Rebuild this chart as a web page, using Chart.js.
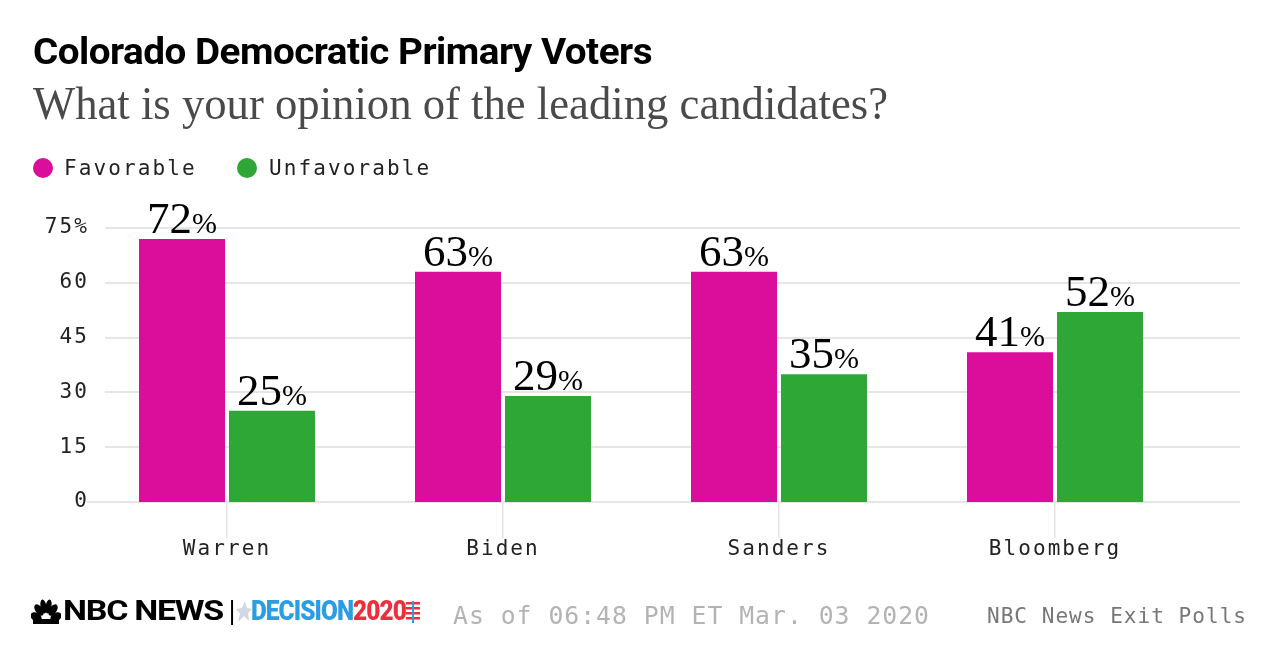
<!DOCTYPE html>
<html>
<head>
<meta charset="utf-8">
<script src="https://cdn.jsdelivr.net/npm/chart.js@4/dist/chart.umd.min.js"></script>
<style>
  html, body { margin:0; padding:0; background:#fff; width:1280px; height:672px; overflow:hidden; }
  #wrap { position:relative; width:1280px; height:672px; }
  canvas#c { position:absolute; left:0; top:0; }
  .t { position:absolute; white-space:nowrap; line-height:1; transform-origin:0 0; }
  #title { left:33px; top:33px; font-family:Roboto, "DejaVu Sans", sans-serif; font-weight:700; font-size:37px; color:#000; letter-spacing:-0.5px; }
  #subtitle { left:33px; top:81px; font-family:"Liberation Serif", "DejaVu Serif", serif; font-size:46px; color:#4a4a4a; }
  .leg { position:absolute; top:158px; height:20px; }
  .dot { position:absolute; width:20px; height:20px; border-radius:50%; top:0; }
  .legtxt { position:absolute; top:0px; font-family:"DejaVu Sans Mono", monospace; font-size:21px; letter-spacing:2.1px; color:#222; line-height:20px; white-space:nowrap; }
  #asof { left:453px; top:603px; font-family:"DejaVu Sans Mono", monospace; font-size:25px; color:#b3b3b3; letter-spacing:1px; }
  #source { left:987px; top:606px; font-family:"DejaVu Sans Mono", monospace; font-size:21px; color:#777; letter-spacing:1px; }
  #logo { position:absolute; left:31px; top:597px; height:30px; }
  #nbc { left:63px; top:598px; font-family:Roboto, "DejaVu Sans", sans-serif; font-weight:700; font-size:27px; color:#000; letter-spacing:-1px; }
  #bar { left:228px; top:599px; font-family:"DejaVu Sans", sans-serif; font-size:24px; color:#000; }
  #dec { left:251px; top:598px; font-family:Roboto, "DejaVu Sans", sans-serif; font-weight:900; font-size:27px; letter-spacing:-1px; }
  #dec .b { color:#2b9de3; }
  #dec .r { color:#ec2f3d; }
</style>
</head>
<body>
<div id="wrap">
  <canvas id="c" width="1280" height="672"></canvas>
  <div id="title" class="t">Colorado Democratic Primary Voters</div>
  <div id="subtitle" class="t">What is your opinion of the leading candidates?</div>
  <div class="leg" style="left:33px">
    <div class="dot" style="left:0;background:#DB0D9B"></div>
    <div class="legtxt" style="left:31px">Favorable</div>
  </div>
  <div class="leg" style="left:237px">
    <div class="dot" style="left:0;background:#2EA737"></div>
    <div class="legtxt" style="left:32px">Unfavorable</div>
  </div>
  <svg id="logo" width="30" height="30" viewBox="0 0 30 30">
    <g fill="#000">
      <ellipse cx="5" cy="20" rx="4.2" ry="6" transform="rotate(-60 5 20)"/>
      <ellipse cx="8" cy="13" rx="3.6" ry="6.5" transform="rotate(-35 8 13)"/>
      <ellipse cx="12.5" cy="9.5" rx="3" ry="7" transform="rotate(-10 12.5 9.5)"/>
      <ellipse cx="17.5" cy="9.5" rx="3" ry="7" transform="rotate(10 17.5 9.5)"/>
      <ellipse cx="22" cy="13" rx="3.6" ry="6.5" transform="rotate(35 22 13)"/>
      <ellipse cx="25" cy="20" rx="4.2" ry="6" transform="rotate(60 25 20)"/>
      <rect x="2" y="22" width="26" height="5"/>
    </g>
  </svg>
  <div id="nbc" class="t">NBC NEWS</div>
  <div id="bar" class="t">|</div>
  <svg style="position:absolute;left:236px;top:601px" width="16" height="22" viewBox="0 0 16 22">
    <polygon points="9,0 11,7 16,8 12,12 13,20 8,15 2,21 4,13 0,8 6,7" fill="#cfd8e3"/>
  </svg>
  <div id="dec" class="t"><span class="b">DECISION</span><span class="r">2020</span></div>
  <svg style="position:absolute;left:406px;top:601px" width="14" height="22" viewBox="0 0 14 22">
    <rect x="0" y="1" width="14" height="2.5" fill="#ec2f3d"/>
    <rect x="0" y="6" width="14" height="2.5" fill="#ec2f3d"/>
    <rect x="0" y="11" width="14" height="2.5" fill="#ec2f3d"/>
    <rect x="0" y="16" width="14" height="2.5" fill="#ec2f3d"/>
    <rect x="6" y="0" width="2" height="22" fill="#2b9de3"/>
  </svg>
  <div id="asof" class="t">As of 06:48 PM ET Mar. 03 2020</div>
  <div id="source" class="t">NBC News Exit Polls</div>
</div>
<script>
const categories = ['Warren', 'Biden', 'Sanders', 'Bloomberg'];
const favorable = [72, 63, 63, 41];
const unfavorable = [25, 29, 35, 52];
const yTicks = [0, 15, 30, 45, 60, 75];
const seriesNames = ['Favorable', 'Unfavorable'];
const seriesColors = ['#DB0D9B', '#2EA737'];

function fitWidth(id, w) {
  const el = document.getElementById(id);
  el.style.transform = 'none';
  const r = el.getBoundingClientRect().width;
  el.style.transform = 'scaleX(' + (w / r) + ')';
}

const MONO = '"DejaVu Sans Mono", monospace';

const gridPlugin = {
  id: 'customGrid',
  beforeDraw(chart) { chart.ctx.letterSpacing = '2.1px'; },
  beforeDatasetsDraw(chart) {
    const ctx = chart.ctx, y = chart.scales.y;
    ctx.save();
    ctx.strokeStyle = '#e6e6e6';
    ctx.lineWidth = 2;
    yTicks.forEach(v => {
      const py = Math.round(y.getPixelForValue(v));
      ctx.beginPath();
      ctx.moveTo(v === 0 ? 87 : 105, py);
      ctx.lineTo(1240, py);
      ctx.stroke();
    });
    ctx.restore();
  }
};

const labelPlugin = {
  id: 'valueLabels',
  afterDatasetsDraw(chart) {
    const ctx = chart.ctx;
    ctx.save();
    ctx.letterSpacing = '0px';
    ctx.fillStyle = '#000';
    ctx.textBaseline = 'alphabetic';
    ctx.textAlign = 'left';
    const NUMF = '45px "Liberation Serif", serif';
    const PCTF = '30px "Liberation Serif", serif';
    chart.data.datasets.forEach((ds, di) => {
      chart.getDatasetMeta(di).data.forEach((bar, i) => {
        const num = String(ds.data[i]);
        ctx.font = NUMF;
        const wn = ctx.measureText(num).width;
        ctx.font = PCTF;
        const wp = ctx.measureText('%').width;
        const x0 = bar.x - (wn + wp) / 2;
        const by = bar.y - 6;
        ctx.font = NUMF;
        ctx.fillText(num, x0, by);
        ctx.font = PCTF;
        ctx.fillText('%', x0 + wn, by);
      });
    });
    ctx.restore();
  }
};

const chart = new Chart(document.getElementById('c'), {
  type: 'bar',
  data: {
    labels: categories,
    datasets: [
      { label: seriesNames[0], data: favorable, backgroundColor: seriesColors[0] },
      { label: seriesNames[1], data: unfavorable, backgroundColor: seriesColors[1] }
    ]
  },
  options: {
    responsive: false,
    animation: false,
    devicePixelRatio: 1,
    categoryPercentage: 0.652,
    barPercentage: 0.956,
    layout: { padding: { left: 0, right: 87, top: 228, bottom: 70 } },
    plugins: { legend: { display: false }, tooltip: { enabled: false } },
    scales: {
      y: {
        min: 0, max: 75,
        afterFit(s) { s.width = 89; },
        afterBuildTicks(s) { s.ticks = yTicks.map(v => ({ value: v })); },
        grid: { display: false, drawTicks: false },
        border: { display: false },
        ticks: {
          padding: 0,
          color: '#222',
          font: { family: MONO, size: 21 },
          callback: v => (v === 75 ? v + '%' : String(v))
        }
      },
      x: {
        afterFit(s) { s.height = 100; },
        grid: { display: true, drawOnChartArea: false, drawTicks: true, tickLength: 36, offset: false, color: '#e3e3e3', lineWidth: 1.5 },
        border: { display: false },
        ticks: { padding: -1, color: '#222', maxRotation: 0, font: { family: MONO, size: 21 } }
      }
    }
  },
  plugins: [gridPlugin, labelPlugin]
});

function fits() {
  fitWidth('title', 619);
  fitWidth('subtitle', 855);
  fitWidth('asof', 477);
  fitWidth('source', 260);
  fitWidth('nbc', 160);
  fitWidth('dec', 155);
}
fits();
if (document.fonts && document.fonts.ready) document.fonts.ready.then(fits);
</script>
</body>
</html>
